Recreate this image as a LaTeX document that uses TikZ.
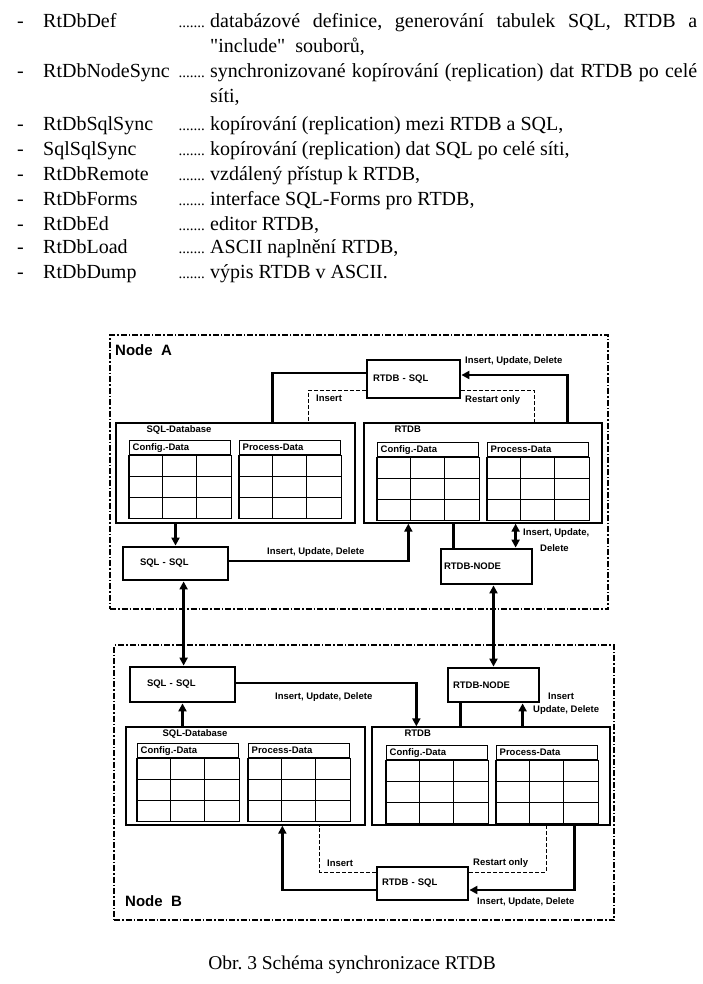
\documentclass[tikz,border=0pt]{standalone}
\usepackage{fontspec}
\setmainfont{Liberation Serif}
\setsansfont{Liberation Sans}
\newfontfamily\plainrm{Liberation Serif}
\usetikzlibrary{arrows.meta}
\frenchspacing

\newcommand{\diafont}{\sffamily\bfseries\fontsize{9.5}{11}\selectfont}
% one data table: name, x, y, title
\newcommand{\datatab}[4]{%
  \node[tabhead, anchor=north west] (#1) at (#2,#3) {#4};
  \draw[tabline] (#1.south west) rectangle ([yshift=-63pt]#1.south east);
  \foreach \k in {1,2}
    \draw[tabline] ([yshift=-21pt*\k]#1.south west) -- ([yshift=-21pt*\k]#1.south east);
  \foreach \k in {1,2}
    \draw[tabline] ([xshift=101pt*\k/3]#1.south west) -- ([xshift=101pt*\k/3,yshift=-63pt]#1.south west);
}

\begin{document}
\begin{tikzpicture}[x=1pt, y=-1pt,
    item/.style={font=\fontsize{20}{25}\selectfont, inner sep=0pt},
    lbl/.style={font=\diafont, inner sep=0pt},
    frame/.style={draw, line width=1.1pt, dash pattern=on 6pt off 2pt on 1.5pt off 2pt},
    db/.style={draw, line width=1.3pt},
    tabhead/.style={draw, line width=1.4pt, minimum width=101pt, minimum height=14pt,
                    text width=95pt, inner xsep=3pt, inner ysep=0pt, align=left, font=\diafont},
    tabline/.style={line width=1.4pt},
    proc/.style={draw, line width=2.8pt, inner ysep=0pt, align=left, font=\diafont},
    pipe/.style={line width=2.6pt},
    conn/.style={-{Triangle[length=8pt,width=8pt]}, line width=2.6pt},
    dbl/.style={{Triangle[length=8pt,width=8pt]}-{Triangle[length=8pt,width=8pt]}, line width=2.6pt},
    weak/.style={line width=1pt, dash pattern=on 4pt off 2pt}
  ]
  \fill[white] (0,0) rectangle (702,984);
  \useasboundingbox (0,0) rectangle (702,984);

  % list of programs
  \foreach \yy [count=\i] in {28,78,131,156,181,206,230,254,278}
    \node[item, anchor=base west] (dash\i) at (17,\yy) {-};
  \node[item, anchor=base west] (prog1) at (43,28)  {RtDbDef};
  \node[item, anchor=base west] (prog2) at (43,78)  {RtDbNodeSync};
  \node[item, anchor=base west] (prog3) at (43,131) {RtDbSqlSync};
  \node[item, anchor=base west] (prog4) at (43,156) {SqlSqlSync};
  \node[item, anchor=base west] (prog5) at (43,181) {RtDbRemote};
  \node[item, anchor=base west] (prog6) at (43,206) {RtDbForms};
  \node[item, anchor=base west] (prog7) at (43,230) {RtDbEd};
  \node[item, anchor=base west] (prog8) at (43,254) {RtDbLoad};
  \node[item, anchor=base west] (prog9) at (43,278) {RtDbDump};
  \foreach \yy [count=\i] in {28,78,131,156,181,206,230,254,278}
    \node[item, font=\fontsize{15}{18}\selectfont, anchor=base east] (dots\i) at (205,\yy) {.......};
  \node[item, anchor=base west] (desc1)  at (210,28)  {\makebox[487pt][s]{databázové definice, generování tabulek SQL, RTDB a}};
  \node[item, anchor=base west] (desc1b) at (210,53)  {{\plainrm"}include{\plainrm"}\ \ souborů,};
  \node[item, anchor=base west] (desc2)  at (210,78)  {\makebox[487pt][s]{synchronizované kopírování (replication) dat RTDB po celé}};
  \node[item, anchor=base west] (desc2b) at (210,103) {síti,};
  \node[item, anchor=base west] (desc3)  at (210,131) {kopírování (replication) mezi RTDB a SQL,};
  \node[item, anchor=base west] (desc4)  at (210,156) {kopírování (replication) dat SQL po celé síti,};
  \node[item, anchor=base west] (desc5)  at (210,181) {vzdálený přístup k RTDB,};
  \node[item, anchor=base west] (desc6)  at (210,206) {interface SQL-Forms pro RTDB,};
  \node[item, anchor=base west] (desc7)  at (210,230) {editor RTDB,};
  \node[item, anchor=base west] (desc8)  at (210,254) {ASCII naplnění RTDB,};
  \node[item, anchor=base west] (desc9)  at (210,278) {výpis RTDB v ASCII.};

  % node frames
  \node[frame, minimum width=498pt, minimum height=274pt] (nodeA) at (359,472) {};
  \node[frame, minimum width=500pt, minimum height=275pt] (nodeB) at (364,782.5) {};
  \node[lbl, font=\sffamily\bfseries\fontsize{15}{17}\selectfont, anchor=west] (nodeAname) at (115,350) {Node\ \ A};
  \node[lbl, font=\sffamily\bfseries\fontsize{15}{17}\selectfont, anchor=west] (nodeBname) at (125,901) {Node\ \ B};

  % databases
  \node[db, minimum width=239pt, minimum height=100pt] (sqldbA) at (235.5,473) {};
  \node[db, minimum width=238pt, minimum height=100pt] (rtdbA)  at (483,473)   {};
  \node[db, minimum width=239pt, minimum height=98pt]  (sqldbB) at (245.5,776) {};
  \node[db, minimum width=238pt, minimum height=98pt]  (rtdbB)  at (491,776)   {};
  \node[lbl, anchor=north west] (sqldbAname) at ([xshift=31pt,yshift=-3pt]sqldbA.north west) {SQL-Database};
  \node[lbl, anchor=north west] (rtdbAname)  at ([xshift=31pt,yshift=-3pt]rtdbA.north west)  {RTDB};
  \node[lbl, anchor=north west] (sqldbBname) at ([xshift=37pt,yshift=-3pt]sqldbB.north west) {SQL-Database};
  \node[lbl, anchor=north west] (rtdbBname)  at ([xshift=33pt,yshift=-3pt]rtdbB.north west)  {RTDB};

  \datatab{cfgSqlA}{129}{440}{Config.-Data}
  \datatab{prcSqlA}{239}{440}{Process-Data}
  \datatab{cfgRtA}{377}{442}{Config.-Data}
  \datatab{prcRtA}{487}{442}{Process-Data}
  \datatab{cfgSqlB}{137}{743}{Config.-Data}
  \datatab{prcSqlB}{248}{743}{Process-Data}
  \datatab{cfgRtB}{386}{745}{Config.-Data}
  \datatab{prcRtB}{496}{745}{Process-Data}

  % sync processes
  \node[proc, text width=81pt, inner xsep=6pt,  minimum height=38pt] (rtdbsqlA)  at (413.5,379)   {RTDB - SQL};
  \node[proc, text width=71pt, inner xsep=17pt, minimum height=33pt] (sqlsqlA)   at (175.5,563.5) {SQL - SQL};
  \node[proc, text width=85pt, inner xsep=3pt,  minimum height=35pt] (rtdbnodeA) at (486.5,566.5) {RTDB-NODE};
  \node[proc, text width=71pt, inner xsep=17pt, minimum height=35pt] (sqlsqlB)   at (182.5,684.5) {SQL - SQL};
  \node[proc, text width=81pt, inner xsep=5pt,  minimum height=34pt] (rtdbnodeB) at (493.5,685)   {RTDB-NODE};
  \node[proc, text width=81pt, inner xsep=5pt,  minimum height=33pt] (rtdbsqlB)  at (422.5,883.5) {RTDB - SQL};

  % node A
  \draw[pipe] ([yshift=6pt]rtdbsqlA.west) -| ([xshift=157pt]sqldbA.north west);
  \draw[weak] ([yshift=-11pt]rtdbsqlA.west) -| ([xshift=193pt]sqldbA.north west);
  \draw[conn] ([xshift=204pt]rtdbA.north west) |- ([yshift=4pt]rtdbsqlA.east);
  \draw[weak] ([yshift=-11pt]rtdbsqlA.east) -| ([xshift=171pt]rtdbA.north west);
  \draw[conn] (sqldbA.south -| sqlsqlA.north) -- (sqlsqlA.north);
  \draw[conn] ([yshift=2.5pt]sqlsqlA.east) -| ([xshift=45pt]rtdbA.south west);
  \draw[pipe] ([xshift=14pt]rtdbnodeA.north west) -- ([xshift=14pt]rtdbnodeA.north west |- rtdbA.south);
  \draw[dbl] ([xshift=76pt]rtdbnodeA.north west) -- ([xshift=76pt]rtdbnodeA.north west |- rtdbA.south);
  \node[lbl, anchor=west] (insA)    at (316,398) {Insert};
  \node[lbl, anchor=west] (iudA)    at (465,361) {Insert, Update, Delete};
  \node[lbl, anchor=west] (rstA)    at (465,400) {Restart only};
  \node[lbl, anchor=west] (iudSqlA) at (267,552) {Insert, Update, Delete};
  \node[lbl, anchor=west] (iuNodeA) at (523,533) {Insert, Update,};
  \node[lbl, anchor=west] (dNodeA)  at (540,548) {Delete};

  % between nodes
  \draw[dbl] ([xshift=62pt]sqlsqlA.south west) -- ([xshift=62pt]sqlsqlA.south west |- sqlsqlB.north);
  \draw[dbl] (rtdbnodeB.north |- rtdbnodeA.south) -- (rtdbnodeB.north);

  % node B
  \draw[conn] (sqlsqlB.south |- sqldbB.north) -- (sqlsqlB.south);
  \draw[conn] ([yshift=1.5pt]sqlsqlB.east) -| ([xshift=45pt]rtdbB.north west);
  \draw[pipe] ([xshift=14pt]rtdbnodeB.south west) -- ([xshift=14pt]rtdbnodeB.south west |- rtdbB.north);
  \draw[conn] ([xshift=76pt]rtdbnodeB.south west |- rtdbB.north) -- ([xshift=76pt]rtdbnodeB.south west);
  \draw[conn] ([yshift=-6.5pt]rtdbsqlB.west) -| ([xshift=157pt]sqldbB.south west);
  \draw[weak] ([yshift=11.5pt]rtdbsqlB.west) -| ([xshift=194pt]sqldbB.south west);
  \draw[weak] ([yshift=11.5pt]rtdbsqlB.east) -| ([xshift=175pt]rtdbB.south west);
  \draw[conn] ([xshift=203pt]rtdbB.south west) |- ([yshift=-6.5pt]rtdbsqlB.east);
  \node[lbl, anchor=west] (iudSqlB) at (275,697) {Insert, Update, Delete};
  \node[lbl, anchor=west] (iNodeB)  at (548,696) {Insert};
  \node[lbl, anchor=west] (udNodeB) at (533,710) {Update, Delete};
  \node[lbl, anchor=west] (insB)    at (327,863) {Insert};
  \node[lbl, anchor=west] (rstB)    at (473,863) {Restart only};
  \node[lbl, anchor=west] (iudB)    at (477,902) {Insert, Update, Delete};

  \node[item, font=\fontsize{19.5}{23}\selectfont] (caption) at (352,965) {Obr. 3 Schéma synchronizace RTDB};
\end{tikzpicture}
\end{document}
